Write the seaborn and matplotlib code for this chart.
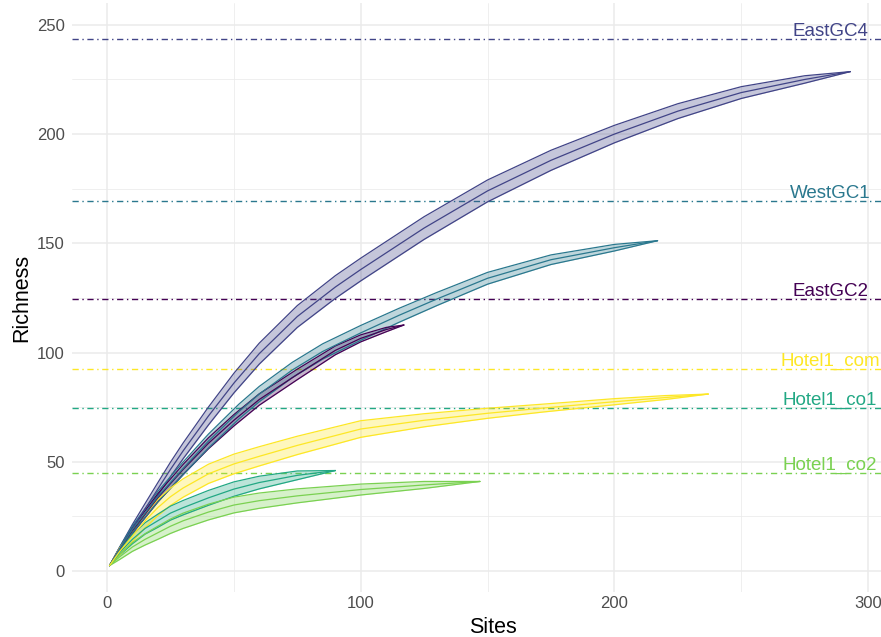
import matplotlib
matplotlib.use("Agg")
import matplotlib.pyplot as plt
import numpy as np
import pandas as pd
import seaborn as sns

# Species accumulation (mean richness and its standard deviation) per site group
east_gc4_sites = [1, 5, 10, 15, 20, 25, 30, 40, 50, 60, 75, 90, 100, 125, 150, 175, 200, 225, 250, 275, 293]
east_gc4_rich = [2.5, 10, 19.5, 28.5, 37.5, 46.5, 55, 71, 86, 99.5, 116.5, 130, 138, 157, 174, 188, 200,
                 210.5, 219, 225, 228.6]
east_gc4_sd = [0, 1, 1.8, 2.4, 2.9, 3.3, 3.6, 4.1, 4.5, 4.8, 5, 5.2, 5.2, 5.2, 5, 4.6, 4, 3.4, 2.7, 1.7, 0]

west_gc1_sites = [1, 5, 10, 20, 30, 40, 52, 60, 73, 85, 100, 115, 130, 150, 175, 200, 217]
west_gc1_rich = [2.5, 10, 19, 34, 47, 59.5, 73, 81, 92, 100.5, 109, 117, 124.5, 134, 142.5, 148, 151.2]
west_gc1_sd = [0, 0.9, 1.6, 2.4, 2.9, 3.2, 3.4, 3.5, 3.5, 3.5, 3.4, 3.2, 3, 2.7, 2.2, 1.5, 0]

east_gc2_sites = [1, 5, 10, 20, 30, 40, 50, 60, 75, 90, 100, 110, 117]
east_gc2_rich = [2.5, 10, 18.5, 33.5, 46.5, 58.5, 69, 78.5, 90, 101, 106.5, 110.5, 112.6]
east_gc2_sd = [0, 0.7, 1.3, 1.9, 2.3, 2.5, 2.6, 2.6, 2.4, 2, 1.6, 1, 0]

hotel_com_sites = [1, 5, 10, 15, 20, 25, 30, 40, 50, 60, 75, 100, 125, 150, 172, 200, 220, 237]
hotel_com_rich = [2.5, 9, 16, 23, 29, 34, 38, 44.5, 49, 52.5, 57.5, 65, 69, 72.2, 74.6, 77.5, 79.4, 81]
hotel_com_sd = [0, 1.5, 2.5, 3.2, 3.7, 4, 4.2, 4.4, 4.5, 4.4, 4.2, 3.8, 3, 2.3, 1.8, 1.4, 0.9, 0]

hotel_co1_sites = [1, 5, 10, 15, 20, 25, 30, 40, 50, 60, 75, 90]
hotel_co1_rich = [2.5, 8.5, 14.5, 19.5, 23, 26.5, 29, 33.5, 37.5, 40.5, 43.8, 46]
hotel_co1_sd = [0, 1.2, 2, 2.6, 3, 3.2, 3.3, 3.4, 3.3, 2.9, 2, 0]

hotel_co2_sites = [1, 5, 10, 15, 20, 25, 30, 40, 50, 60, 75, 100, 125, 147]
hotel_co2_rich = [2.5, 6.5, 11, 14.5, 17.5, 20.5, 23, 27, 30.2, 32.2, 34.4, 37.3, 39.4, 41]
hotel_co2_sd = [0, 1.2, 2, 2.6, 3, 3.3, 3.5, 3.6, 3.6, 3.5, 3.2, 2.5, 1.6, 0]

# Estimated total richness per group (dash-dot reference lines)
group_names = ["EastGC2", "EastGC4", "WestGC1", "Hotel1_co1", "Hotel1_co2", "Hotel1_com"]
estimated_richness = [124.5, 243.5, 169.5, 74.6, 45, 92.5]
group_colors = ["#440154", "#414487", "#2A788E", "#22A884", "#7AD151", "#FDE725"]

curves = {
    "EastGC2": (east_gc2_sites, east_gc2_rich, east_gc2_sd),
    "EastGC4": (east_gc4_sites, east_gc4_rich, east_gc4_sd),
    "WestGC1": (west_gc1_sites, west_gc1_rich, west_gc1_sd),
    "Hotel1_co1": (hotel_co1_sites, hotel_co1_rich, hotel_co1_sd),
    "Hotel1_co2": (hotel_co2_sites, hotel_co2_rich, hotel_co2_sd),
    "Hotel1_com": (hotel_com_sites, hotel_com_rich, hotel_com_sd),
}

frames = []
for name, (s, r, sd) in curves.items():
    s, r, sd = np.asarray(s, float), np.asarray(r, float), np.asarray(sd, float)
    frames.append(pd.DataFrame({"Sites": s, "Richness": r, "lower": r - sd,
                                "upper": r + sd, "group": name}))
acc = pd.concat(frames, ignore_index=True)
palette = dict(zip(group_names, group_colors))

sns.set_theme(style="whitegrid")
plt.rcParams["font.family"] = ["Liberation Sans", "DejaVu Sans"]

W, H = 881, 637
fig = plt.figure(figsize=(W / 100, H / 100), dpi=100)
fig.patch.set_facecolor("white")

xlim = (-14, 318)
ylim = (-9.6, 260)
left_px, bottom_px, top_px = 71.5, 592, 3
px_per_x = 2.537
width_px = (xlim[1] - xlim[0]) * px_per_x
ax = fig.add_axes([left_px / W, (H - bottom_px) / H, width_px / W, (bottom_px - top_px) / H])
ax.set_facecolor("white")

# Ribbons (mean +/- sd) with outlined edges
for name in group_names:
    d = acc[acc["group"] == name]
    ax.fill_between(d["Sites"], d["lower"], d["upper"], color=palette[name],
                    alpha=0.3, lw=0, zorder=2)
for col in ["lower", "upper", "Richness"]:
    sns.lineplot(data=acc, x="Sites", y=col, hue="group", palette=palette,
                 hue_order=group_names, estimator=None, sort=True, lw=0.9,
                 legend=False, ax=ax, zorder=3)

# Estimated richness reference lines and their labels
for name, est in zip(group_names, estimated_richness):
    c = palette[name]
    ax.plot([xlim[0], xlim[1]], [est, est], color=c, lw=1.0,
            ls=(0, (4.5, 2.6, 1.0, 2.6)), zorder=1.5)
    ax.annotate(name, xy=(285, est), xytext=(0, 2.2), textcoords="offset points",
                ha="center", va="baseline", color=c, fontsize=13.5,
                annotation_clip=False)

ax.set_xlim(*xlim)
ax.set_ylim(*ylim)
ax.set_xticks([0, 100, 200, 300])
ax.set_xticks([50, 150, 250], minor=True)
ax.set_yticks([0, 50, 100, 150, 200, 250])
ax.set_yticks([25, 75, 125, 175, 225], minor=True)
ax.grid(which="major", color="#EBEBEB", lw=1.1)
ax.grid(which="minor", color="#EBEBEB", lw=0.55)
ax.set_axisbelow(True)
for sp in ax.spines.values():
    sp.set_visible(False)
ax.tick_params(axis="both", which="both", length=0, labelsize=12, labelcolor="#4D4D4D")
ax.tick_params(axis="x", pad=3)
ax.tick_params(axis="y", pad=5)
ax.set_xlabel("Sites", fontsize=15.5, color="black", labelpad=4)
ax.set_ylabel("Richness", fontsize=15.5, color="black", labelpad=3)

fig.savefig("out.png", dpi=100, facecolor="white")
